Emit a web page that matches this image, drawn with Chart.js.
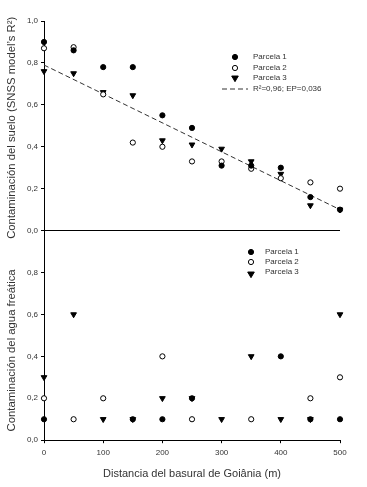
<!DOCTYPE html>
<html lang="es">
<head>
<meta charset="UTF-8">
<title>Contaminación - Goiânia</title>
<script src="https://cdn.jsdelivr.net/npm/chart.js"></script>
<style>
  html, body { margin: 0; padding: 0; background: #fff; }
  #caja { position: relative; width: 367px; height: 487px; }
</style>
</head>
<body>
<div id="caja"><canvas id="grafico" width="367" height="487"></canvas></div>

<script>
// distancias (m)
const distancias = [0, 50, 100, 150, 200, 250, 300, 350, 400, 450, 500];

// panel superior: contaminación del suelo
const sueloP1 = [0.90, 0.86, 0.78, 0.78, 0.55, 0.49, 0.31, 0.31, 0.30, 0.16, 0.10];
const sueloP2 = [0.87, 0.875, 0.65, 0.42, 0.40, 0.33, 0.33, 0.295, 0.25, 0.23, 0.20];
const sueloP3 = [0.76, 0.75, 0.66, 0.645, 0.43, 0.41, 0.39, 0.33, 0.27, 0.12, 0.10];
const regX = [0, 500];
const regY = [0.79, 0.10];

// panel inferior: contaminación del agua freática
const aguaP1 = [0.1, null, null, 0.1, 0.1, 0.2, null, null, 0.4, 0.1, 0.1];
const aguaP2 = [0.2, 0.1, 0.2, null, 0.4, 0.1, null, 0.1, null, 0.2, 0.3];
const aguaP3 = [0.3, 0.6, 0.1, 0.1, 0.2, 0.2, 0.1, 0.4, 0.1, 0.1, 0.6];

const ticksY = [0, 0.2, 0.4, 0.6, 0.8, 1.0];
const ticksX = [0, 100, 200, 300, 400, 500];

const nombres = ['Parcela 1', 'Parcela 2', 'Parcela 3'];
const textoReg = 'R\u00B2=0,96; EP=0,036';

const gris = '#333';
Chart.defaults.font.family = '"Liberation Sans", Arial, sans-serif';
Chart.defaults.color = gris;

function puntos(ys) {
  return distancias.map((x, i) => ({ x: x, y: ys[i] }));
}

// estilos de los tres símbolos
const estilos = [
  { pointStyle: 'circle', pointRadius: 2.6, backgroundColor: '#000', borderColor: '#000', pointBorderWidth: 1, rotation: 0 },
  { pointStyle: 'circle', pointRadius: 2.6, backgroundColor: '#fff', borderColor: '#000', pointBorderWidth: 1, rotation: 0 },
  { pointStyle: 'triangle', pointRadius: 3.3, backgroundColor: '#000', borderColor: '#000', pointBorderWidth: 1, rotation: 180 }
];

function serie(nombre, ys, eje, k) {
  const e = estilos[k];
  return {
    type: 'scatter',
    label: nombre,
    data: puntos(ys),
    yAxisID: eje,
    pointStyle: e.pointStyle,
    pointRadius: e.pointRadius,
    pointHoverRadius: e.pointRadius,
    backgroundColor: e.backgroundColor,
    borderColor: e.borderColor,
    pointBorderWidth: e.pointBorderWidth,
    rotation: e.rotation,
    clip: false,
    order: k
  };
}

const datasets = [
  serie(nombres[0], sueloP1, 'ySuelo', 0),
  serie(nombres[1], sueloP2, 'ySuelo', 1),
  serie(nombres[2], sueloP3, 'ySuelo', 2),
  {
    type: 'line',
    label: textoReg,
    data: regX.map((x, i) => ({ x: x, y: regY[i] })),
    yAxisID: 'ySuelo',
    borderColor: gris,
    borderWidth: 1,
    borderDash: [5, 3],
    pointRadius: 0,
    fill: false,
    order: 3
  },
  serie(nombres[0], aguaP1, 'yAgua', 0),
  serie(nombres[1], aguaP2, 'yAgua', 1),
  serie(nombres[2], aguaP3, 'yAgua', 2)
];

function formato(v) {
  return v.toFixed(1).replace('.', ',');
}

function ejeY(ocultarUno) {
  return {
    type: 'linear',
    position: 'left',
    stack: 'paneles',
    stackWeight: 1,
    min: 0,
    max: 1,
    afterBuildTicks: s => { s.ticks = ticksY.map(v => ({ value: v })); },
    afterFit: s => { s.width = 44; },
    ticks: {
      font: { size: 8 },
      color: gris,
      padding: 3,
      callback: v => (ocultarUno && v === 1) ? '' : formato(v)
    },
    grid: {
      drawOnChartArea: !ocultarUno,
      color: ctx => (ctx.tick && ctx.tick.value === 0) ? '#000' : 'rgba(0,0,0,0)',
      tickColor: '#000',
      tickLength: 3,
      lineWidth: 1
    },
    border: { color: '#000', width: 1 },
    title: { display: false }
  };
}

// títulos de los ejes y, dibujados a mano
const titulosY = {
  id: 'titulosY',
  afterDraw(chart) {
    const c = chart.ctx;
    const ys = chart.scales.ySuelo, ya = chart.scales.yAgua;
    c.save();
    c.fillStyle = gris;
    c.font = '11.3px "Liberation Sans", Arial, sans-serif';
    c.textAlign = 'center';
    c.textBaseline = 'middle';
    [[ys, 'Contaminación del suelo (SNSS model\u2019s R\u00B2)', 2], [ya, 'Contaminación del agua freática', 15]].forEach(([s, t, d]) => {
      c.save();
      c.translate(12, (s.top + s.bottom) / 2 + d);
      c.rotate(-Math.PI / 2);
      c.fillText(t, 0, 0);
      c.restore();
    });
    c.restore();
  }
};

function simbolo(c, k, x, y) {
  const e = estilos[k];
  c.fillStyle = e.backgroundColor;
  c.strokeStyle = e.borderColor;
  c.lineWidth = 1;
  c.beginPath();
  if (e.pointStyle === 'circle') {
    c.arc(x, y, e.pointRadius, 0, Math.PI * 2);
  } else {
    const r = e.pointRadius;
    c.moveTo(x - r, y - r * 0.6);
    c.lineTo(x + r, y - r * 0.6);
    c.lineTo(x, y + r * 1.1);
    c.closePath();
  }
  c.fill();
  c.stroke();
}

// leyendas dentro de cada panel
const leyendas = {
  id: 'leyendas',
  afterDraw(chart) {
    const c = chart.ctx;
    c.save();
    c.font = '8px "Liberation Sans", Arial, sans-serif';
    c.textBaseline = 'middle';
    c.textAlign = 'left';

    // superior
    const filasS = [57, 68, 78];
    nombres.forEach((n, k) => {
      simbolo(c, k, 235, filasS[k]);
      c.fillStyle = gris;
      c.fillText(n, 253, filasS[k]);
    });
    c.strokeStyle = gris;
    c.lineWidth = 1;
    c.setLineDash([5, 3]);
    c.beginPath();
    c.moveTo(222, 89);
    c.lineTo(248, 89);
    c.stroke();
    c.setLineDash([]);
    c.fillStyle = gris;
    c.fillText(textoReg, 253, 89);

    // inferior
    const filasA = [252, 262, 274];
    nombres.forEach((n, k) => {
      simbolo(c, k, 251, filasA[k]);
      c.fillStyle = gris;
      c.fillText(n, 265, filasA[k] - (k === 2 ? 2 : 0));
    });
    c.restore();
  }
};

const config = {
  type: 'scatter',
  data: { datasets: datasets },
  options: {
    responsive: false,
    animation: false,
    layout: { padding: { top: 21, right: 27, left: 0, bottom: 6 } },
    plugins: { legend: { display: false }, tooltip: { enabled: false } },
    scales: {
      yAgua: ejeY(true),
      ySuelo: ejeY(false),
      x: {
        type: 'linear',
        position: 'bottom',
        min: 0,
        max: 500,
        afterBuildTicks: s => { s.ticks = ticksX.map(v => ({ value: v })); },
        ticks: { font: { size: 8 }, color: gris, padding: 5 },
        grid: { drawOnChartArea: false, tickColor: '#000', tickLength: 3 },
        border: { color: '#000', width: 1 },
        title: {
          display: true,
          text: 'Distancia del basural de Goiânia (m)',
          font: { size: 11 },
          color: gris,
          padding: { top: 5, bottom: 0 }
        }
      }
    }
  },
  plugins: [titulosY, leyendas]
};

new Chart(document.getElementById('grafico'), config);
</script>
</body>
</html>
